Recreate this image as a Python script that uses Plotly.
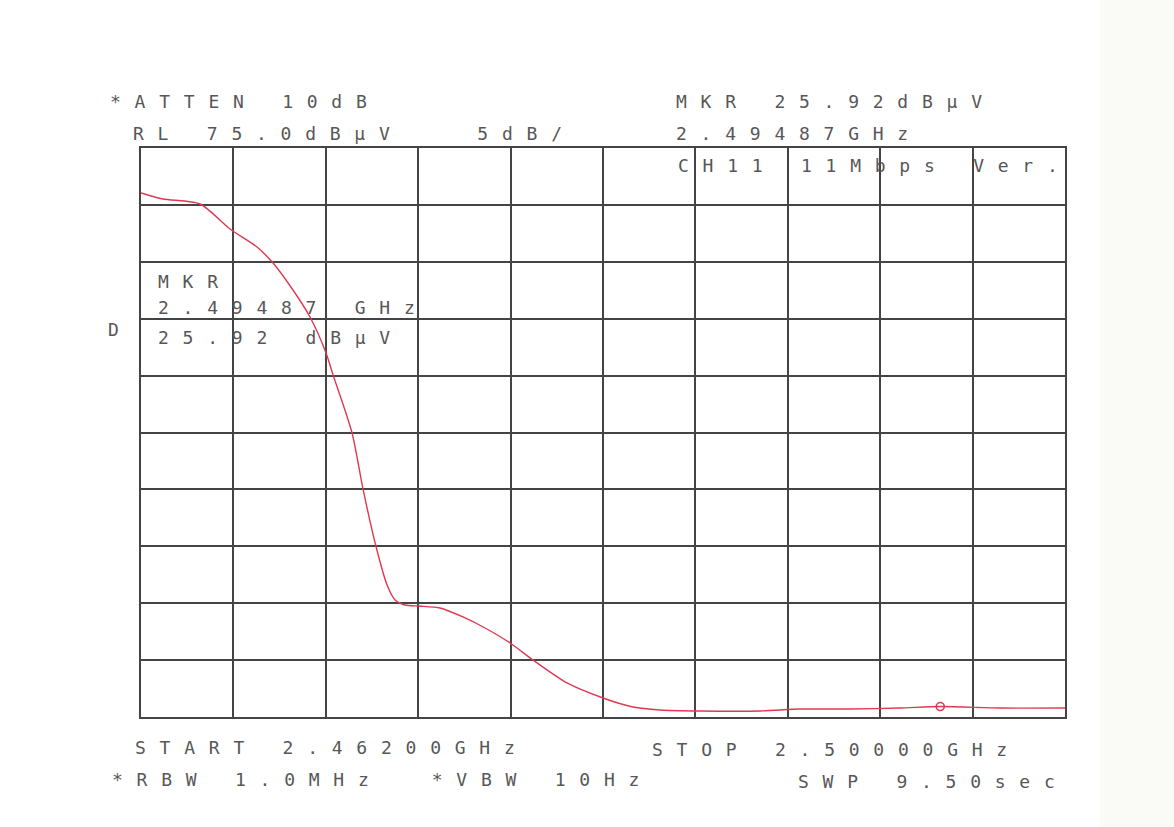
import plotly.graph_objects as go

# Sweep settings (GHz / dBuV)
f_start = 2.46200
f_stop = 2.50000
ref_level = 75.0
db_per_div = 5.0

# Measured trace
freq_ghz = [2.46200, 2.46290, 2.46443, 2.46566, 2.46677, 2.46743, 2.46825, 2.46895,
            2.46961, 2.46990, 2.47068, 2.47113, 2.47166, 2.47212, 2.47245, 2.47286,
            2.47343, 2.47430, 2.47524, 2.47615, 2.47718, 2.47812, 2.47952, 2.48100,
            2.48223, 2.48334, 2.48499, 2.48746, 2.48910, 2.49116, 2.49322, 2.49487,
            2.49733, 2.50000]
level_dbuv = [71.05, 70.52, 70.08, 67.88, 66.30, 64.89, 62.52, 60.15,
              56.99, 55.05, 49.96, 45.04, 40.03, 36.60, 35.28, 34.84,
              34.75, 34.58, 33.79, 32.82, 31.50, 30.01, 27.99, 26.67,
              25.88, 25.62, 25.53, 25.53, 25.70, 25.70, 25.79, 25.92,
              25.79, 25.79]

# Marker readout
marker_freq = 2.49487
marker_level = 25.92

# Page geometry
W, H = 1174, 827
L, R, T, B = 141, 1065, 148, 717

INK = "#575757"
GRID = "#444444"
TRACE = "#e0384f"
PITCH = 24.6
FONT_SIZE = 18
ADVANCE = 0.602 * FONT_SIZE


def plotter(s):
    ls = PITCH - ADVANCE
    return f'<span style="letter-spacing:{ls:.2f}px;white-space:pre">{s}</span>'


def at(px, py):
    return (px - L) / (R - L), (B - py) / (B - T)


readouts = [
    ("*ATTEN 10dB", 109, 101),
    ("RL 75.0dBµV   5dB/", 132, 133),
    ("MKR 25.92dBµV", 675, 101),
    ("2.49487GHz", 675, 133),
    ("CH11 11Mbps Ver.", 677, 165),
    ("MKR", 157, 281),
    ("2.49487 GHz", 157, 307),
    ("25.92 dBµV", 157, 337),
    ("D", 107, 329),
    ("START 2.46200GHz", 134, 747),
    ("*RBW 1.0MHz  *VBW 10Hz", 111, 779),
    ("STOP 2.50000GHz", 651, 749),
    ("SWP 9.50sec", 797, 781),
]

fig = go.Figure()
fig.add_trace(go.Scatter(
    x=freq_ghz, y=level_dbuv, mode="lines",
    line=dict(color=TRACE, width=1.4, shape="spline", smoothing=0.7),
    hoverinfo="skip", showlegend=False,
))
fig.add_trace(go.Scatter(
    x=[marker_freq], y=[marker_level], mode="markers",
    marker=dict(symbol="circle-open", size=8, color=TRACE, line=dict(width=1.6)),
    hoverinfo="skip", showlegend=False,
))

annotations = []
for text, px, py in readouts:
    ax, ay = at(px, py)
    annotations.append(dict(
        text=plotter(text), x=ax, y=ay, xref="paper", yref="paper",
        xanchor="left", yanchor="middle", showarrow=False, borderpad=0,
        font=dict(family="DejaVu Sans Mono", size=FONT_SIZE, color=INK),
    ))

axis_common = dict(
    showgrid=True, gridcolor=GRID, gridwidth=2,
    showline=True, linecolor=GRID, linewidth=2, mirror=True,
    zeroline=False, showticklabels=False, ticks="", fixedrange=True,
)

x0s, _ = at(1100, 0)
fig.update_layout(
    width=W, height=H,
    margin=dict(l=L, r=W - R, t=T, b=H - B, pad=0),
    paper_bgcolor="white", plot_bgcolor="white",
    xaxis=dict(range=[f_start, f_stop], tick0=f_start, dtick=(f_stop - f_start) / 10, **axis_common),
    yaxis=dict(range=[ref_level - 10 * db_per_div, ref_level], tick0=ref_level, dtick=db_per_div, **axis_common),
    annotations=annotations,
    shapes=[dict(type="rect", xref="paper", yref="paper", x0=x0s, x1=2.0, y0=-1.0, y1=2.0,
                 fillcolor="#fafaf7", line=dict(width=0), layer="below")],
)

fig.write_html("out.html")
